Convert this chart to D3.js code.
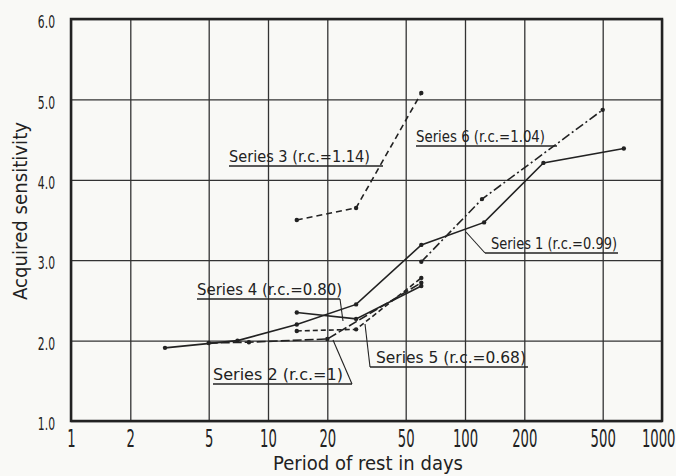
<!DOCTYPE html>
<html>
<head>
<meta charset="utf-8">
<script src="https://cdn.jsdelivr.net/npm/d3@7"></script>
<style>
  body { margin: 0; background: #f9f9f6; }
  svg { display: block; }
  text { font-family: "DejaVu Sans", sans-serif; fill: #222; }
</style>
</head>
<body>
<div id="chart"></div>
<script>
// tick values
const xTicks = [1, 2, 5, 10, 20, 50, 100, 200, 500, 1000];
const yTicks = [1, 2, 3, 4, 5, 6];

// series values: [days, acquired sensitivity]
const series1 = [[3, 1.91], [7, 2.0], [14, 2.2], [28, 2.45], [60, 3.19], [125, 3.47], [250, 4.21], [640, 4.39]];
const series2 = [[5, 1.97], [8, 1.98], [20, 2.02], [60, 2.72]];
const series3 = [[14, 3.5], [28, 3.65], [60, 5.08]];
const series4 = [[14, 2.35], [28, 2.27], [60, 2.68]];
const series5 = [[14, 2.12], [28, 2.14], [60, 2.78]];
const series6 = [[60, 2.98], [122, 3.76], [500, 4.87]];

const seriesNames = ["Series 1 (r.c.=0.99)", "Series 2 (r.c.=1)", "Series 3 (r.c.=1.14)",
                     "Series 4 (r.c.=0.80)", "Series 5 (r.c.=0.68)", "Series 6 (r.c.=1.04)"];

const W = 676, H = 476;
const margin = {top: 19, right: 14, bottom: 55, left: 71};
const width = W - margin.left - margin.right;
const height = H - margin.top - margin.bottom;

const svg = d3.select("#chart").append("svg")
  .attr("width", W)
  .attr("height", H);

const g = svg.append("g")
  .attr("transform", "translate(" + margin.left + "," + margin.top + ")");

const x = d3.scaleLog().domain([1, 1000]).range([0, width]);
const y = d3.scaleLinear().domain([1, 6]).range([height, 0]);

// grid + tick labels (old drawing used tall narrow digits, so squeeze them)
const sq = 0.55;
const xAxis = g.append("g")
  .attr("transform", "translate(0," + height + ")")
  .call(d3.axisBottom(x).tickValues(xTicks).tickFormat(d3.format("d")).tickSize(-height).tickPadding(9));
xAxis.select(".domain").remove();
xAxis.selectAll("line").attr("stroke", "#333").attr("stroke-width", 1.3);
xAxis.selectAll("text").attr("font-size", 24).attr("fill", "#222")
  .attr("transform", "scale(" + sq + ",1)");
xAxis.selectAll("text").filter(d => d === 1000)
  .attr("text-anchor", "end")
  .attr("x", 13 / sq);

const yAxis = g.append("g")
  .call(d3.axisLeft(y).tickValues(yTicks).tickFormat(d3.format(".1f")).tickSize(-width).tickPadding(16));
yAxis.select(".domain").remove();
yAxis.selectAll("line").attr("stroke", "#333").attr("stroke-width", 1.3);
yAxis.selectAll("text").attr("font-size", 18).attr("fill", "#222").attr("dy", "0.48em")
  .attr("x", -16 / 0.6)
  .attr("transform", "scale(0.6,1)");

// frame
g.append("rect")
  .attr("width", width)
  .attr("height", height)
  .attr("fill", "none")
  .attr("stroke", "#222")
  .attr("stroke-width", 2.5);

// axis titles
svg.append("text")
  .attr("x", 273).attr("y", 470)
  .attr("textLength", 190)
  .attr("lengthAdjust", "spacingAndGlyphs")
  .attr("font-size", 19)
  .text("Period of rest in days");

svg.append("text")
  .attr("transform", "translate(27,300) rotate(-90)")
  .attr("textLength", 178)
  .attr("lengthAdjust", "spacingAndGlyphs")
  .attr("font-size", 19)
  .text("Acquired sensitivity");

// lines
const line = d3.line().x(d => x(d[0])).y(d => y(d[1]));
const styles = [
  {data: series1, dash: null},
  {data: series2, dash: "9,3"},
  {data: series3, dash: "6,4"},
  {data: series4, dash: null},
  {data: series5, dash: "5,3"},
  {data: series6, dash: "9,3,2,3"}
];

styles.forEach(s => {
  g.append("path")
    .datum(s.data)
    .attr("d", line)
    .attr("fill", "none")
    .attr("stroke", "#222")
    .attr("stroke-width", 1.6)
    .attr("stroke-dasharray", s.dash);
  g.selectAll(null)
    .data(s.data)
    .enter()
    .append("circle")
      .attr("cx", d => x(d[0]))
      .attr("cy", d => y(d[1]))
      .attr("r", 2.2)
      .attr("fill", "#222");
});

// series labels with underline and leader
const labels = [
  {i: 2, tx: 229, ty: 162, tw: 141, ux2: 383, lead: null},
  {i: 5, tx: 416, ty: 142, tw: 129, ux2: 557, lead: null},
  {i: 0, tx: 491, ty: 249, tw: 126, ux1: 485, ux2: 618, lead: [466, 232]},
  {i: 3, tx: 197, ty: 295, tw: 145, ux2: 340, lead: [343, 321]},
  {i: 1, tx: 213, ty: 380, tw: 130, ux2: 352, lead: [333, 340]},
  {i: 4, tx: 376, ty: 363, tw: 150, ux1: 370, ux2: 528, lead: [365, 324]}
];

labels.forEach(l => {
  svg.append("text")
    .attr("x", l.tx).attr("y", l.ty)
    .attr("font-size", 15)
    .attr("textLength", l.tw)
    .attr("lengthAdjust", "spacingAndGlyphs")
    .text(seriesNames[l.i]);
  const ux1 = l.ux1 || l.tx;
  const uy = l.ty + 4;
  svg.append("line")
    .attr("x1", ux1).attr("x2", l.ux2)
    .attr("y1", uy).attr("y2", uy)
    .attr("stroke", "#222").attr("stroke-width", 1.3);
  if (l.lead) {
    const sx = (l.i === 0 || l.i === 4) ? ux1 : l.ux2;
    svg.append("line")
      .attr("x1", sx).attr("y1", uy)
      .attr("x2", l.lead[0]).attr("y2", l.lead[1])
      .attr("stroke", "#222").attr("stroke-width", 1.1);
  }
});
</script>
</body>
</html>
